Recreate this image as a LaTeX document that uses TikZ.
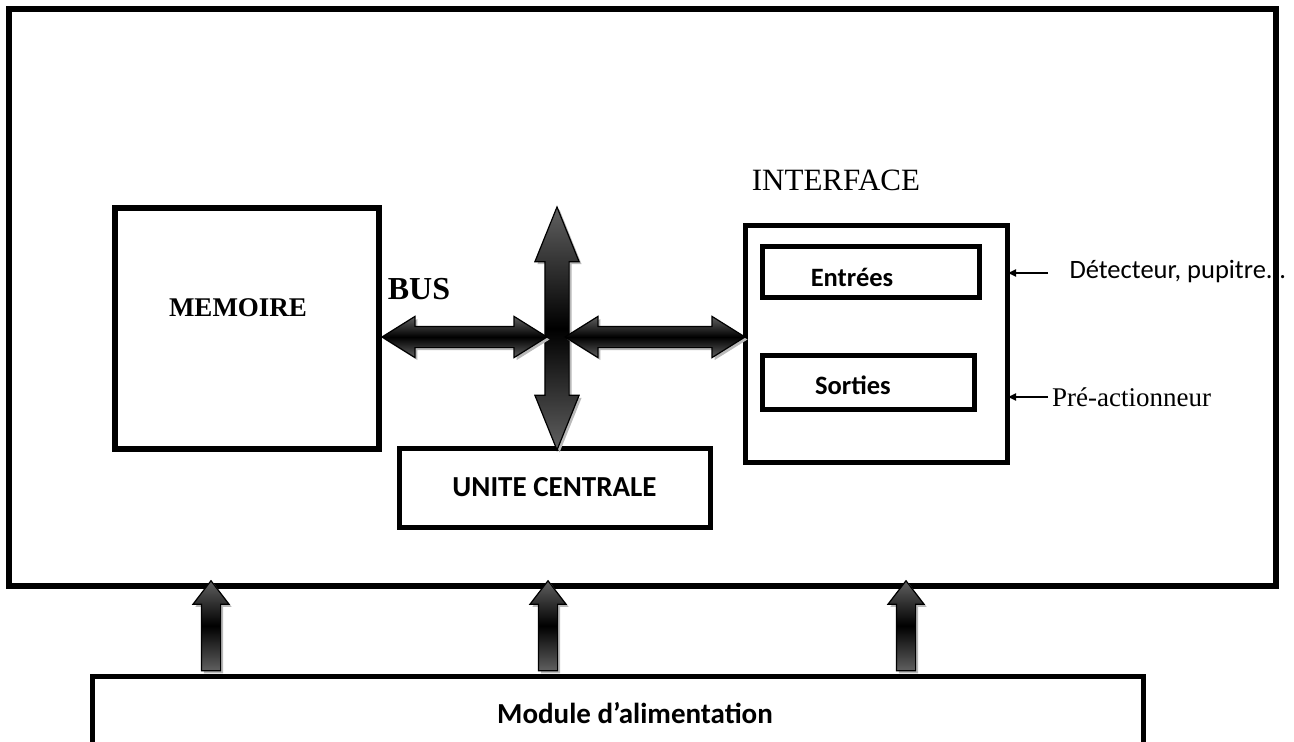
\documentclass[tikz,border=0pt]{standalone}
\usepackage{fontspec}
\setmainfont{Liberation Serif}
\newfontfamily\calibri{Carlito}
\usetikzlibrary{shapes.arrows,shadows,arrows.meta}

\tikzset{
    bloc/.style={draw, rectangle, line width=5pt, inner sep=0pt, outer sep=0pt},
    shade bus/.style={draw=black, line width=1.2pt,
        top color=gray!75!black, bottom color=gray!75!black, middle color=black,
        drop shadow={shadow xshift=2.5pt, shadow yshift=-2.5pt, fill=gray!55, opacity=1}},
    bus/.style={double arrow, shade bus, inner xsep=0pt, inner ysep=10pt, minimum width=0pt,
        double arrow head extend=10pt, double arrow tip angle=64},
    feed/.style={single arrow, shade bus, inner xsep=9pt, inner ysep=0pt, minimum width=0pt,
        single arrow head extend=8.5pt, single arrow tip angle=75, minimum height=90pt,
        shape border rotate=90},
    sig/.style={line width=1.4pt, -{Latex[length=9pt,width=8pt]}},
    serif/.style={font=\fontsize{#1}{#1}\selectfont},
    cal/.style={font=\calibri\bfseries\fontsize{#1}{#1}\selectfont},
}

\begin{document}
\begin{tikzpicture}[x=1pt, y=-1pt]
    \useasboundingbox (0,0) rectangle (1294,742);
    \clip (0,0) rectangle (1294,742);

    \node[bloc, line width=6pt, minimum width=1267pt, minimum height=577pt] (plc) at (642.5,297.5) {};
    \node[bloc, line width=6pt, minimum width=264pt, minimum height=241pt] (mem) at (247,328.5) {};
    \node[bloc, minimum width=311pt, minimum height=79pt, cal=29] (uc) at (554.5,487.5) {UNITE CENTRALE};
    \node[bloc, minimum width=262pt, minimum height=237pt] (iface) at (876,343.5) {};
    \node[bloc, minimum width=217pt, minimum height=51pt] (in) at (871,271.5) {};
    \node[bloc, minimum width=212pt, minimum height=54pt] (out) at (868,382) {};
    \node[bloc, minimum width=1050.5pt, minimum height=120pt, anchor=north west] (alim) at (92.5,676) {};

    \node[font=\bfseries\fontsize{27}{27}\selectfont] (memtxt) at (238,308) {MEMOIRE};
    \node[font=\bfseries\fontsize{32}{32}\selectfont] (bustxt) at (419,289) {BUS};
    \node[serif=31] (ifacetxt) at (836,180) {INTERFACE};
    \node[cal=26.5] (intxt) at (852,277) {Entrées};
    \node[cal=26.5] (outtxt) at (853,385) {Sorties};
    \node[cal=29] (alimtxt) at (635,713) {Module d’alimentation};

    % bus
    \node[bus, shape border rotate=90, minimum height=243pt, inner xsep=11.5pt, inner ysep=0pt,
        double arrow tip angle=44] (busv) at (557,328.5) {};
    \node[bus, minimum height=165pt] (busl) at (464.5,337) {};
    \node[bus, minimum height=180pt] (busr) at (655,337) {};

    % alimentation
    \node[feed] (f1) at (211,632) {};
    \node[feed] (f2) at (548,632) {};
    \node[feed] (f3) at (906,632) {};

    % signaux
    \coordinate (det) at (1048,273);
    \coordinate (pre) at (1048,397);
    \draw[sig] (det) -- (det -| iface.east);
    \draw[sig] (pre) -- (pre -| iface.east);
    \node[anchor=west, font=\calibri\fontsize{26.5}{26.5}\selectfont] (dettxt) at (1066,272) {Détecteur, pupitre...};
    \node[anchor=west, serif=27, inner sep=0pt] (pretxt) at (1052,397) {Pré-actionneur};
\end{tikzpicture}
\end{document}
